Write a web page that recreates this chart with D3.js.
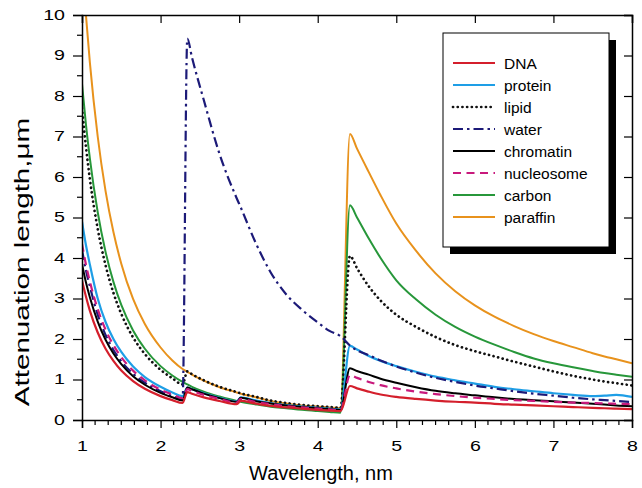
<!DOCTYPE html>
<html><head><meta charset="utf-8">
<script src="https://cdn.jsdelivr.net/npm/d3@7"></script>
<style>
body{margin:0;background:#fff}
svg{display:block}
text{font-family:"Liberation Sans",Arial,sans-serif;fill:#000}
</style>
</head><body>
<svg id="chart" width="642" height="488"></svg>
<script>
// ---- data ----
const wavelength = [1.0,1.05,1.1,1.2,1.3,1.4,1.5,1.65,1.8,2.0,
  2.15,2.28,2.34,2.4,2.55,2.75,2.97,3.02,3.2,3.4,
  3.6,3.8,4.0,4.15,4.29,4.41,4.5,4.65,4.8,5.0,
  5.25,5.5,5.75,6.0,6.25,6.5,6.75,7.0,7.25,7.5,
  7.65,7.8,8.0];
const dna = [3.45,3.05,2.70,2.16,1.76,1.46,1.22,0.96,0.77,0.59,
  0.49,0.42,0.69,0.65,0.56,0.47,0.39,0.47,0.41,0.35,
  0.31,0.28,0.25,0.23,0.22,0.84,0.78,0.70,0.63,0.57,
  0.52,0.48,0.45,0.43,0.40,0.38,0.36,0.34,0.32,0.30,
  0.29,0.28,0.27];
const protein = [4.9,4.32,3.84,3.0,2.42,2.0,1.68,1.32,1.06,0.82,
  0.68,0.59,0.80,0.76,0.66,0.55,0.46,0.56,0.49,0.42,
  0.37,0.33,0.30,0.28,0.26,1.83,1.74,1.58,1.46,1.33,
  1.19,1.07,0.98,0.90,0.82,0.76,0.71,0.66,0.62,0.59,
  0.60,0.62,0.57];
const lipid = [7.7,6.75,5.95,4.72,3.82,3.14,2.62,2.04,1.63,1.24,
  1.03,0.88,1.20,1.13,0.98,0.82,0.69,0.66,0.58,0.48,
  0.42,0.37,0.34,0.32,0.30,4.05,3.75,3.30,2.95,2.60,
  2.30,2.05,1.85,1.70,1.57,1.44,1.32,1.20,1.09,1.00,
  0.95,0.91,0.85];
const water = [4.2,3.7,3.3,2.6,2.1,1.73,1.45,1.14,0.92,0.71,
  0.59,0.51,9.42,8.95,7.9,6.57,5.47,5.25,4.42,3.65,
  3.1,2.72,2.41,2.2,2.07,1.84,1.72,1.6,1.47,1.32,
  1.17,1.04,0.94,0.85,0.78,0.71,0.65,0.60,0.55,0.51,
  0.49,0.47,0.44];
const chromatin = [3.85,3.40,3.03,2.43,1.98,1.64,1.38,1.08,0.87,0.67,
  0.56,0.48,0.80,0.76,0.65,0.54,0.45,0.55,0.47,0.41,
  0.36,0.32,0.29,0.27,0.25,1.28,1.21,1.12,1.02,0.92,
  0.81,0.72,0.66,0.61,0.56,0.52,0.49,0.46,0.43,0.40,
  0.38,0.36,0.34];
const nucleosome = [4.35,3.84,3.42,2.74,2.23,1.85,1.55,1.22,0.98,0.75,
  0.63,0.54,0.76,0.72,0.62,0.52,0.43,0.52,0.45,0.39,
  0.34,0.31,0.28,0.26,0.24,1.11,1.04,0.94,0.86,0.78,
  0.70,0.64,0.59,0.55,0.52,0.49,0.47,0.45,0.43,0.42,
  0.41,0.40,0.39];
const carbon = [8.3,7.30,6.46,5.13,4.15,3.41,2.84,2.21,1.76,1.33,
  1.10,0.94,0.88,0.82,0.70,0.58,0.47,0.45,0.39,0.33,
  0.29,0.25,0.22,0.20,0.18,5.30,5.00,4.48,4.00,3.45,
  2.98,2.60,2.30,2.06,1.86,1.68,1.52,1.40,1.30,1.21,
  1.16,1.12,1.07];
const paraffin = [11.39,10.0,8.83,7.0,5.65,4.64,3.86,2.99,2.37,1.79,
  1.47,1.26,1.19,1.12,0.97,0.81,0.68,0.65,0.57,0.47,
  0.41,0.36,0.33,0.31,0.29,7.06,6.70,6.12,5.55,4.85,
  4.18,3.62,3.18,2.83,2.55,2.32,2.12,1.95,1.80,1.65,
  1.57,1.50,1.40];
const seriesNames = ["DNA","protein","lipid","water","chromatin","nucleosome","carbon","paraffin"];
const seriesValues = [dna,protein,lipid,water,chromatin,nucleosome,carbon,paraffin];
const xTickValues = [1,2,3,4,5,6,7,8];
const yTickValues = [0,1,2,3,4,5,6,7,8,9,10];
const xLabel = "Wavelength, nm";
const yLabel = "Attenuation length,\u03BCm";

// ---- styles ----
const styles = {
  DNA:        {color:"#d41f2c", width:2.2, dash:null},
  protein:    {color:"#1e9ee6", width:2.2, dash:null},
  lipid:      {color:"#111111", width:2.7, dash:"0.1 4.6", cap:"round"},
  water:      {color:"#1c1a78", width:2.2, dash:"10 4 2.5 4"},
  chromatin:  {color:"#000000", width:2.0, dash:null},
  nucleosome: {color:"#c8197c", width:2.2, dash:"8 5.5"},
  carbon:     {color:"#27973a", width:2.0, dash:null},
  paraffin:   {color:"#e8921c", width:2.0, dash:null}
};
const drawOrder = ["paraffin","carbon","lipid","protein","water","chromatin","nucleosome","DNA"];

const svg = d3.select("#chart");
const W = 642, H = 488;
const m = {left:82, right:632, top:15, bottom:420};
const x = d3.scaleLinear().domain([1,8]).range([m.left, m.right]);
const y = d3.scaleLinear().domain([0,10]).range([m.bottom, m.top]);

svg.append("rect").attr("width",W).attr("height",H).attr("fill","#fff");

svg.append("defs").append("clipPath").attr("id","plotclip")
  .append("rect").attr("x",m.left).attr("y",m.top)
  .attr("width",m.right-m.left).attr("height",m.bottom-m.top);

// ---- lines ----
const line = d3.line().x(d=>x(d[0])).y(d=>y(d[1])).curve(d3.curveMonotoneX);
const gLines = svg.append("g").attr("clip-path","url(#plotclip)");
drawOrder.forEach(name=>{
  const vals = seriesValues[seriesNames.indexOf(name)];
  const st = styles[name];
  const pts = wavelength.map((w,i)=>[w, vals[i]]);
  const p = gLines.append("path").datum(pts).attr("d",line)
    .attr("fill","none").attr("stroke",st.color).attr("stroke-width",st.width)
    .attr("stroke-linejoin","round");
  if(st.dash) p.attr("stroke-dasharray",st.dash);
  if(st.cap) p.attr("stroke-linecap",st.cap);
});

// ---- axes ----
const stretch = 1.4;
const minorX = d3.range(1, 8.0001, 1/6).filter(v=>Math.abs(v-Math.round(v))>1e-6);
const minorY = d3.range(0.5, 10, 1);

const gx = svg.append("g").attr("transform",`translate(0,${m.bottom})`)
  .call(d3.axisBottom(x).tickValues(xTickValues).tickSize(8).tickPadding(13).tickFormat(d3.format("d")));
gx.append("g").selectAll("line").data(minorX).join("line")
  .attr("x1",d=>x(d)).attr("x2",d=>x(d)).attr("y1",0).attr("y2",5).attr("stroke","#000");
gx.selectAll(".tick text").attr("font-size",14).attr("transform",`scale(${stretch},1)`);

const gy = svg.append("g").attr("transform",`translate(${m.left},0)`)
  .call(d3.axisLeft(y).tickValues(yTickValues).tickSize(9).tickPadding(8).tickFormat(d3.format("d")));
gy.append("g").selectAll("line").data(minorY).join("line")
  .attr("y1",d=>y(d)).attr("y2",d=>y(d)).attr("x1",0).attr("x2",-5).attr("stroke","#000");
gy.selectAll(".tick text").attr("font-size",14)
  .attr("x", -17/stretch).attr("transform",`scale(${stretch},1)`);

const gt = svg.append("g").attr("transform",`translate(0,${m.top})`)
  .call(d3.axisTop(x).tickValues(xTickValues).tickSize(-8).tickFormat(""));
const gr = svg.append("g").attr("transform",`translate(${m.right},0)`)
  .call(d3.axisRight(y).tickValues(yTickValues).tickSize(-8).tickFormat(""));

[gx,gy,gt,gr].forEach(g=>{
  g.selectAll(".domain").attr("stroke","#000").attr("stroke-width",1.5);
  g.selectAll("line").attr("stroke","#000").attr("stroke-width",1.2);
  g.selectAll("text").attr("font-family",null);
});

// ---- axis titles ----
svg.append("text").attr("x",321).attr("y",480).attr("text-anchor","middle")
  .attr("font-size",20).text(xLabel);
svg.append("text").attr("transform",`translate(29,262) rotate(-90) scale(1.48,1)`)
  .attr("text-anchor","middle").attr("font-size",20).text(yLabel);

// ---- legend ----
const lg = {x:443, y:33, w:166, h:214, shadow:7, row0:63, rowH:22, lx1:453, lx2:495, tx:504};
svg.append("rect").attr("x",lg.x+lg.shadow).attr("y",lg.y+lg.shadow)
  .attr("width",lg.w).attr("height",lg.h).attr("fill","#000");
svg.append("rect").attr("x",lg.x).attr("y",lg.y).attr("width",lg.w).attr("height",lg.h)
  .attr("fill","#fff").attr("stroke","#000").attr("stroke-width",1);
seriesNames.forEach((name,i)=>{
  const st = styles[name];
  const yy = lg.row0 + i*lg.rowH;
  const l = svg.append("line").attr("x1",lg.lx1).attr("x2",lg.lx2).attr("y1",yy).attr("y2",yy)
    .attr("stroke",st.color).attr("stroke-width",st.width);
  if(st.dash) l.attr("stroke-dasharray",st.dash);
  if(st.cap) l.attr("stroke-linecap",st.cap);
  svg.append("text").attr("x",lg.tx).attr("y",yy+5.5).attr("font-size",15.5).text(name);
});
</script>
</body></html>
